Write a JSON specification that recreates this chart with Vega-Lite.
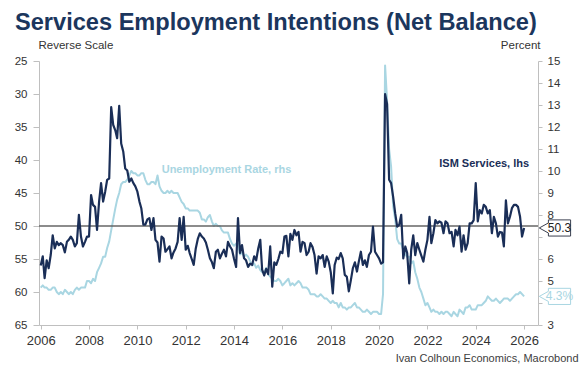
{
"$schema": "https://vega.github.io/schema/vega-lite/v6.json",
"width": 499, "height": 264,
"autosize": {"type": "none"},
"padding": {"left": 39, "top": 61, "right": 46, "bottom": 53},
"background": "white",
"config": {"view": {"stroke": null}, "font": "Liberation Sans", "axis": {"labelOverlap": false, "grid": false}},
"title": {"text": "Services Employment Intentions (Net Balance)", "anchor": "start", "frame": "group", "dx": -24, "offset": 4, "fontSize": 23.6, "fontWeight": "bold", "color": "#1b365d", "font": "Liberation Sans"},
"datasets": {
"one": [{}],
"ism": [
{"d":"2006-01","v":56.0},{"d":"2006-02","v":54.6},{"d":"2006-03","v":57.9},{"d":"2006-04","v":55.2},{"d":"2006-05","v":56.4},{"d":"2006-06","v":54.4},{"d":"2006-07","v":51.4},{"d":"2006-08","v":53.4},{"d":"2006-09","v":52.4},{"d":"2006-10","v":52.9},{"d":"2006-11","v":52.6},{"d":"2006-12","v":52.9},
{"d":"2007-01","v":54.0},{"d":"2007-02","v":52.4},{"d":"2007-03","v":52.1},{"d":"2007-04","v":51.6},{"d":"2007-05","v":52.1},{"d":"2007-06","v":53.1},{"d":"2007-07","v":52.6},{"d":"2007-08","v":48.3},{"d":"2007-09","v":51.6},{"d":"2007-10","v":53.1},{"d":"2007-11","v":52.4},{"d":"2007-12","v":51.6},
{"d":"2008-01","v":51.6},{"d":"2008-02","v":45.3},{"d":"2008-03","v":46.8},{"d":"2008-04","v":47.1},{"d":"2008-05","v":50.6},{"d":"2008-06","v":46.3},{"d":"2008-07","v":43.5},{"d":"2008-08","v":46.3},{"d":"2008-09","v":44.8},{"d":"2008-10","v":43.0},{"d":"2008-11","v":42.8},{"d":"2008-12","v":32.0},
{"d":"2009-01","v":34.7},{"d":"2009-02","v":35.5},{"d":"2009-03","v":36.7},{"d":"2009-04","v":31.8},{"d":"2009-05","v":37.5},{"d":"2009-06","v":38.7},{"d":"2009-07","v":41.3},{"d":"2009-08","v":41.6},{"d":"2009-09","v":43.3},{"d":"2009-10","v":42.8},{"d":"2009-11","v":43.5},{"d":"2009-12","v":44.0},
{"d":"2010-01","v":44.8},{"d":"2010-02","v":46.3},{"d":"2010-03","v":47.3},{"d":"2010-04","v":49.8},{"d":"2010-05","v":49.8},{"d":"2010-06","v":49.0},{"d":"2010-07","v":48.8},{"d":"2010-08","v":50.6},{"d":"2010-09","v":48.8},{"d":"2010-10","v":52.1},{"d":"2010-11","v":52.5},{"d":"2010-12","v":55.4},
{"d":"2011-01","v":51.6},{"d":"2011-02","v":51.9},{"d":"2011-03","v":53.9},{"d":"2011-04","v":53.5},{"d":"2011-05","v":53.1},{"d":"2011-06","v":54.9},{"d":"2011-07","v":54.0},{"d":"2011-08","v":53.4},{"d":"2011-09","v":52.4},{"d":"2011-10","v":48.8},{"d":"2011-11","v":52.1},{"d":"2011-12","v":48.6},
{"d":"2012-01","v":53.6},{"d":"2012-02","v":53.0},{"d":"2012-03","v":54.1},{"d":"2012-04","v":55.0},{"d":"2012-05","v":55.9},{"d":"2012-06","v":53.4},{"d":"2012-07","v":52.0},{"d":"2012-08","v":51.1},{"d":"2012-09","v":51.6},{"d":"2012-10","v":51.9},{"d":"2012-11","v":52.5},{"d":"2012-12","v":53.6},
{"d":"2013-01","v":54.9},{"d":"2013-02","v":55.5},{"d":"2013-03","v":56.4},{"d":"2013-04","v":53.9},{"d":"2013-05","v":53.6},{"d":"2013-06","v":54.9},{"d":"2013-07","v":54.2},{"d":"2013-08","v":53.6},{"d":"2013-09","v":54.6},{"d":"2013-10","v":52.4},{"d":"2013-11","v":53.1},{"d":"2013-12","v":53.6},
{"d":"2014-01","v":55.0},{"d":"2014-02","v":56.2},{"d":"2014-03","v":48.8},{"d":"2014-04","v":54.1},{"d":"2014-05","v":52.9},{"d":"2014-06","v":54.9},{"d":"2014-07","v":55.2},{"d":"2014-08","v":56.2},{"d":"2014-09","v":55.7},{"d":"2014-10","v":55.9},{"d":"2014-11","v":54.6},{"d":"2014-12","v":55.2},
{"d":"2015-01","v":53.4},{"d":"2015-02","v":52.1},{"d":"2015-03","v":56.6},{"d":"2015-04","v":57.5},{"d":"2015-05","v":56.5},{"d":"2015-06","v":57.3},{"d":"2015-07","v":53.1},{"d":"2015-08","v":59.2},{"d":"2015-09","v":55.5},{"d":"2015-10","v":55.9},{"d":"2015-11","v":55.0},{"d":"2015-12","v":53.9},
{"d":"2016-01","v":54.1},{"d":"2016-02","v":51.6},{"d":"2016-03","v":51.5},{"d":"2016-04","v":54.6},{"d":"2016-05","v":51.2},{"d":"2016-06","v":52.1},{"d":"2016-07","v":50.6},{"d":"2016-08","v":51.4},{"d":"2016-09","v":50.9},{"d":"2016-10","v":53.9},{"d":"2016-11","v":52.4},{"d":"2016-12","v":52.6},
{"d":"2017-01","v":54.4},{"d":"2017-02","v":53.9},{"d":"2017-03","v":52.6},{"d":"2017-04","v":53.2},{"d":"2017-05","v":54.4},{"d":"2017-06","v":57.2},{"d":"2017-07","v":54.6},{"d":"2017-08","v":54.9},{"d":"2017-09","v":54.4},{"d":"2017-10","v":56.2},{"d":"2017-11","v":54.6},{"d":"2017-12","v":55.4},
{"d":"2018-01","v":57.0},{"d":"2018-02","v":60.2},{"d":"2018-03","v":55.9},{"d":"2018-04","v":54.8},{"d":"2018-05","v":55.0},{"d":"2018-06","v":54.1},{"d":"2018-07","v":54.9},{"d":"2018-08","v":57.4},{"d":"2018-09","v":57.7},{"d":"2018-10","v":59.9},{"d":"2018-11","v":58.2},{"d":"2018-12","v":56.4},
{"d":"2019-01","v":55.5},{"d":"2019-02","v":56.9},{"d":"2019-03","v":55.4},{"d":"2019-04","v":53.9},{"d":"2019-05","v":55.9},{"d":"2019-06","v":55.2},{"d":"2019-07","v":56.2},{"d":"2019-08","v":54.4},{"d":"2019-09","v":53.9},{"d":"2019-10","v":50.1},{"d":"2019-11","v":53.9},{"d":"2019-12","v":54.4},
{"d":"2020-01","v":54.9},{"d":"2020-02","v":55.7},{"d":"2020-03","v":55.5},{"d":"2020-04","v":30.0},{"d":"2020-05","v":31.5},{"d":"2020-06","v":43.0},{"d":"2020-07","v":43.5},{"d":"2020-08","v":45.6},{"d":"2020-09","v":48.1},{"d":"2020-10","v":50.1},{"d":"2020-11","v":49.8},{"d":"2020-12","v":48.3},
{"d":"2021-01","v":54.9},{"d":"2021-02","v":53.1},{"d":"2021-03","v":54.1},{"d":"2021-04","v":58.7},{"d":"2021-05","v":53.6},{"d":"2021-06","v":51.4},{"d":"2021-07","v":54.4},{"d":"2021-08","v":52.6},{"d":"2021-09","v":53.6},{"d":"2021-10","v":54.5},{"d":"2021-11","v":55.4},{"d":"2021-12","v":53.6},
{"d":"2022-01","v":52.1},{"d":"2022-02","v":48.6},{"d":"2022-03","v":52.6},{"d":"2022-04","v":51.1},{"d":"2022-05","v":49.1},{"d":"2022-06","v":49.6},{"d":"2022-07","v":49.3},{"d":"2022-08","v":49.5},{"d":"2022-09","v":51.1},{"d":"2022-10","v":49.3},{"d":"2022-11","v":49.6},{"d":"2022-12","v":51.1},
{"d":"2023-01","v":50.9},{"d":"2023-02","v":53.1},{"d":"2023-03","v":50.6},{"d":"2023-04","v":51.4},{"d":"2023-05","v":50.1},{"d":"2023-06","v":53.9},{"d":"2023-07","v":51.4},{"d":"2023-08","v":53.6},{"d":"2023-09","v":52.6},{"d":"2023-10","v":49.6},{"d":"2023-11","v":49.6},{"d":"2023-12","v":49.1},
{"d":"2024-01","v":43.5},{"d":"2024-02","v":49.3},{"d":"2024-03","v":47.6},{"d":"2024-04","v":48.1},{"d":"2024-05","v":46.8},{"d":"2024-06","v":47.1},{"d":"2024-07","v":48.1},{"d":"2024-08","v":47.6},{"d":"2024-09","v":51.1},{"d":"2024-10","v":48.6},{"d":"2024-11","v":49.6},{"d":"2024-12","v":51.6},
{"d":"2025-01","v":50.9},{"d":"2025-02","v":51.0},{"d":"2025-03","v":53.1},{"d":"2025-04","v":46.1},{"d":"2025-05","v":49.6},{"d":"2025-06","v":48.6},{"d":"2025-07","v":47.3},{"d":"2025-08","v":46.8},{"d":"2025-09","v":46.8},{"d":"2025-10","v":47.1},{"d":"2025-11","v":48.6},{"d":"2025-12","v":51.6},
{"d":"2026-01","v":50.3}
],
"ur": [
{"d":"2006-01","v":4.7},{"d":"2006-02","v":4.8},{"d":"2006-03","v":4.7},{"d":"2006-04","v":4.7},{"d":"2006-05","v":4.6},{"d":"2006-06","v":4.6},{"d":"2006-07","v":4.7},{"d":"2006-08","v":4.7},{"d":"2006-09","v":4.5},{"d":"2006-10","v":4.4},{"d":"2006-11","v":4.5},{"d":"2006-12","v":4.4},
{"d":"2007-01","v":4.6},{"d":"2007-02","v":4.5},{"d":"2007-03","v":4.4},{"d":"2007-04","v":4.5},{"d":"2007-05","v":4.4},{"d":"2007-06","v":4.6},{"d":"2007-07","v":4.7},{"d":"2007-08","v":4.6},{"d":"2007-09","v":4.7},{"d":"2007-10","v":4.7},{"d":"2007-11","v":4.7},{"d":"2007-12","v":5.0},
{"d":"2008-01","v":5.0},{"d":"2008-02","v":4.9},{"d":"2008-03","v":5.1},{"d":"2008-04","v":5.0},{"d":"2008-05","v":5.4},{"d":"2008-06","v":5.6},{"d":"2008-07","v":5.8},{"d":"2008-08","v":6.1},{"d":"2008-09","v":6.1},{"d":"2008-10","v":6.5},{"d":"2008-11","v":6.8},{"d":"2008-12","v":7.3},
{"d":"2009-01","v":7.8},{"d":"2009-02","v":8.3},{"d":"2009-03","v":8.7},{"d":"2009-04","v":9.0},{"d":"2009-05","v":9.4},{"d":"2009-06","v":9.5},{"d":"2009-07","v":9.5},{"d":"2009-08","v":9.6},{"d":"2009-09","v":9.8},{"d":"2009-10","v":10.0},{"d":"2009-11","v":9.9},{"d":"2009-12","v":9.9},
{"d":"2010-01","v":9.8},{"d":"2010-02","v":9.8},{"d":"2010-03","v":9.9},{"d":"2010-04","v":9.9},{"d":"2010-05","v":9.6},{"d":"2010-06","v":9.4},{"d":"2010-07","v":9.4},{"d":"2010-08","v":9.5},{"d":"2010-09","v":9.5},{"d":"2010-10","v":9.4},{"d":"2010-11","v":9.8},{"d":"2010-12","v":9.3},
{"d":"2011-01","v":9.1},{"d":"2011-02","v":9.0},{"d":"2011-03","v":9.0},{"d":"2011-04","v":9.1},{"d":"2011-05","v":9.0},{"d":"2011-06","v":9.1},{"d":"2011-07","v":9.0},{"d":"2011-08","v":9.0},{"d":"2011-09","v":9.0},{"d":"2011-10","v":8.8},{"d":"2011-11","v":8.6},{"d":"2011-12","v":8.5},
{"d":"2012-01","v":8.3},{"d":"2012-02","v":8.3},{"d":"2012-03","v":8.2},{"d":"2012-04","v":8.2},{"d":"2012-05","v":8.2},{"d":"2012-06","v":8.2},{"d":"2012-07","v":8.2},{"d":"2012-08","v":8.1},{"d":"2012-09","v":7.8},{"d":"2012-10","v":7.8},{"d":"2012-11","v":7.7},{"d":"2012-12","v":7.9},
{"d":"2013-01","v":8.0},{"d":"2013-02","v":7.7},{"d":"2013-03","v":7.5},{"d":"2013-04","v":7.6},{"d":"2013-05","v":7.5},{"d":"2013-06","v":7.5},{"d":"2013-07","v":7.3},{"d":"2013-08","v":7.2},{"d":"2013-09","v":7.2},{"d":"2013-10","v":7.2},{"d":"2013-11","v":6.9},{"d":"2013-12","v":6.7},
{"d":"2014-01","v":6.6},{"d":"2014-02","v":6.7},{"d":"2014-03","v":6.7},{"d":"2014-04","v":6.2},{"d":"2014-05","v":6.3},{"d":"2014-06","v":6.1},{"d":"2014-07","v":6.2},{"d":"2014-08","v":6.1},{"d":"2014-09","v":5.9},{"d":"2014-10","v":5.7},{"d":"2014-11","v":5.8},{"d":"2014-12","v":5.6},
{"d":"2015-01","v":5.7},{"d":"2015-02","v":5.5},{"d":"2015-03","v":5.4},{"d":"2015-04","v":5.4},{"d":"2015-05","v":5.6},{"d":"2015-06","v":5.3},{"d":"2015-07","v":5.2},{"d":"2015-08","v":5.1},{"d":"2015-09","v":5.0},{"d":"2015-10","v":5.0},{"d":"2015-11","v":5.1},{"d":"2015-12","v":5.0},
{"d":"2016-01","v":4.8},{"d":"2016-02","v":4.9},{"d":"2016-03","v":5.0},{"d":"2016-04","v":5.1},{"d":"2016-05","v":4.8},{"d":"2016-06","v":4.9},{"d":"2016-07","v":4.8},{"d":"2016-08","v":4.9},{"d":"2016-09","v":5.0},{"d":"2016-10","v":4.9},{"d":"2016-11","v":4.7},{"d":"2016-12","v":4.7},
{"d":"2017-01","v":4.7},{"d":"2017-02","v":4.6},{"d":"2017-03","v":4.4},{"d":"2017-04","v":4.4},{"d":"2017-05","v":4.4},{"d":"2017-06","v":4.3},{"d":"2017-07","v":4.3},{"d":"2017-08","v":4.4},{"d":"2017-09","v":4.3},{"d":"2017-10","v":4.2},{"d":"2017-11","v":4.2},{"d":"2017-12","v":4.1},
{"d":"2018-01","v":4.0},{"d":"2018-02","v":4.1},{"d":"2018-03","v":4.0},{"d":"2018-04","v":4.0},{"d":"2018-05","v":3.8},{"d":"2018-06","v":4.0},{"d":"2018-07","v":3.8},{"d":"2018-08","v":3.8},{"d":"2018-09","v":3.7},{"d":"2018-10","v":3.8},{"d":"2018-11","v":3.8},{"d":"2018-12","v":3.9},
{"d":"2019-01","v":4.0},{"d":"2019-02","v":3.8},{"d":"2019-03","v":3.8},{"d":"2019-04","v":3.7},{"d":"2019-05","v":3.6},{"d":"2019-06","v":3.6},{"d":"2019-07","v":3.7},{"d":"2019-08","v":3.6},{"d":"2019-09","v":3.5},{"d":"2019-10","v":3.6},{"d":"2019-11","v":3.6},{"d":"2019-12","v":3.6},
{"d":"2020-01","v":3.5},{"d":"2020-02","v":3.5},{"d":"2020-03","v":4.4},{"d":"2020-04","v":14.8},{"d":"2020-05","v":13.2},{"d":"2020-06","v":11.0},{"d":"2020-07","v":10.2},{"d":"2020-08","v":8.4},{"d":"2020-09","v":7.8},{"d":"2020-10","v":6.9},{"d":"2020-11","v":6.7},{"d":"2020-12","v":6.7},
{"d":"2021-01","v":6.4},{"d":"2021-02","v":6.2},{"d":"2021-03","v":6.1},{"d":"2021-04","v":6.1},{"d":"2021-05","v":5.8},{"d":"2021-06","v":5.9},{"d":"2021-07","v":5.4},{"d":"2021-08","v":5.1},{"d":"2021-09","v":4.7},{"d":"2021-10","v":4.5},{"d":"2021-11","v":4.2},{"d":"2021-12","v":3.9},
{"d":"2022-01","v":4.0},{"d":"2022-02","v":3.8},{"d":"2022-03","v":3.6},{"d":"2022-04","v":3.7},{"d":"2022-05","v":3.6},{"d":"2022-06","v":3.6},{"d":"2022-07","v":3.5},{"d":"2022-08","v":3.6},{"d":"2022-09","v":3.5},{"d":"2022-10","v":3.6},{"d":"2022-11","v":3.6},{"d":"2022-12","v":3.5},
{"d":"2023-01","v":3.4},{"d":"2023-02","v":3.6},{"d":"2023-03","v":3.5},{"d":"2023-04","v":3.4},{"d":"2023-05","v":3.7},{"d":"2023-06","v":3.6},{"d":"2023-07","v":3.5},{"d":"2023-08","v":3.8},{"d":"2023-09","v":3.8},{"d":"2023-10","v":3.9},{"d":"2023-11","v":3.7},{"d":"2023-12","v":3.7},
{"d":"2024-01","v":3.7},{"d":"2024-02","v":3.9},{"d":"2024-03","v":3.9},{"d":"2024-04","v":3.9},{"d":"2024-05","v":4.0},{"d":"2024-06","v":4.1},{"d":"2024-07","v":4.3},{"d":"2024-08","v":4.2},{"d":"2024-09","v":4.1},{"d":"2024-10","v":4.1},{"d":"2024-11","v":4.2},{"d":"2024-12","v":4.1},
{"d":"2025-01","v":4.0},{"d":"2025-02","v":4.1},{"d":"2025-03","v":4.2},{"d":"2025-04","v":4.2},{"d":"2025-05","v":4.2},{"d":"2025-06","v":4.1},{"d":"2025-07","v":4.2},{"d":"2025-08","v":4.3},{"d":"2025-09","v":4.4},{"d":"2025-10","v":4.4},{"d":"2025-11","v":4.5},{"d":"2025-12","v":4.4},
{"d":"2026-01","v":4.3}
]
},
"layer": [
{
"layer": [
{
"data": {"name": "ur"},
"mark": {"type": "line", "color": "#a9d6e2", "strokeWidth": 2, "strokeJoin": "round"},
"encoding": {
"x": {"field": "d", "type": "temporal",
"scale": {"type": "utc", "domain": [{"year": 2005, "month": 12, "date": 6, "utc": true}, {"year": 2026, "month": 7, "date": 30, "utc": true}]},
"axis": {"orient": "bottom", "values": [{"year": 2006, "utc": true}, {"year": 2008, "utc": true}, {"year": 2010, "utc": true}, {"year": 2012, "utc": true}, {"year": 2014, "utc": true}, {"year": 2016, "utc": true}, {"year": 2018, "utc": true}, {"year": 2020, "utc": true}, {"year": 2022, "utc": true}, {"year": 2024, "utc": true}, {"year": 2026, "utc": true}],
"format": "%Y", "labelFontSize": 13, "labelColor": "#333333", "labelFont": "Liberation Sans", "tickColor": "#bfbfbf", "domainColor": "#bfbfbf", "tickSize": 4, "labelPadding": 5, "grid": false, "labelOverlap": false,
"title": "Ivan Colhoun Economics, Macrobond", "titleFont": "Liberation Sans", "titleFontSize": 11, "titleFontWeight": "normal", "titleColor": "#404040", "titleX": 539, "titleY": 36, "titleAlign": "right", "titleAnchor": "end", "titleBaseline": "alphabetic"}},
"y": {"field": "v", "type": "quantitative",
"scale": {"domain": [3, 15], "nice": false, "zero": false},
"axis": {"orient": "right", "values": [3,4,5,6,7,8,9,10,11,12,13,14,15], "labelExpr": "datum.value == 4 || datum.value == 7 ? '' : datum.label", "labelOverlap": false, "labelFontSize": 11.5, "labelColor": "#333333", "labelFont": "Liberation Sans", "tickColor": "#bfbfbf", "domainColor": "#bfbfbf", "tickSize": 4, "labelPadding": 5, "grid": false,
"title": "Percent", "titleAngle": 0, "titleX": 2, "titleY": -13, "titleAlign": "right", "titleBaseline": "alphabetic", "titleFont": "Liberation Sans", "titleFontSize": 11.5, "titleFontWeight": "normal", "titleColor": "#333333"}}
}
},
{
"data": {"name": "one"},
"mark": {"type": "point", "shape": "M -1 0 L -0.55 -0.25 L -0.55 -0.4 L 0.55 -0.4 L 0.55 0.4 L -0.55 0.4 L -0.55 0.25 Z", "size": 1632, "filled": true, "fill": "white", "stroke": "#a9d6e2", "strokeWidth": 1, "opacity": 1, "xOffset": 21.5},
"encoding": {
"x": {"datum": {"year": 2026, "month": 7, "date": 30, "utc": true}, "type": "temporal"},
"y": {"datum": 4.3, "type": "quantitative",
"axis": {"orient": "right", "values": [3,4,5,6,7,8,9,10,11,12,13,14,15], "labelExpr": "datum.value == 4 || datum.value == 7 ? '' : datum.label", "labelOverlap": false, "labelFontSize": 11.5, "labelColor": "#333333", "labelFont": "Liberation Sans", "tickColor": "#bfbfbf", "domainColor": "#bfbfbf", "tickSize": 4, "labelPadding": 5, "grid": false,
"title": "Percent", "titleAngle": 0, "titleX": 2, "titleY": -13, "titleAlign": "right", "titleBaseline": "alphabetic", "titleFont": "Liberation Sans", "titleFontSize": 11.5, "titleFontWeight": "normal", "titleColor": "#333333"}}
}
},
{
"data": {"name": "one"},
"mark": {"type": "text", "text": "4.3%", "xOffset": 21.5, "fontSize": 12, "color": "#a9d6e2", "align": "center", "baseline": "middle", "font": "Liberation Sans"},
"encoding": {
"x": {"datum": {"year": 2026, "month": 7, "date": 30, "utc": true}, "type": "temporal"},
"y": {"datum": 4.3, "type": "quantitative",
"axis": {"orient": "right", "values": [3,4,5,6,7,8,9,10,11,12,13,14,15], "labelExpr": "datum.value == 4 || datum.value == 7 ? '' : datum.label", "labelOverlap": false, "labelFontSize": 11.5, "labelColor": "#333333", "labelFont": "Liberation Sans", "tickColor": "#bfbfbf", "domainColor": "#bfbfbf", "tickSize": 4, "labelPadding": 5, "grid": false,
"title": "Percent", "titleAngle": 0, "titleX": 2, "titleY": -13, "titleAlign": "right", "titleBaseline": "alphabetic", "titleFont": "Liberation Sans", "titleFontSize": 11.5, "titleFontWeight": "normal", "titleColor": "#333333"}}
}
},
{
"data": {"name": "one"},
"mark": {"type": "text", "text": "Unemployment Rate, rhs", "fontSize": 11, "fontWeight": "bold", "color": "#a9d6e2", "align": "left", "baseline": "alphabetic", "font": "Liberation Sans"},
"encoding": {
"x": {"datum": {"year": 2011, "month": 1, "date": 3, "utc": true}, "type": "temporal"},
"y": {"datum": 9.91, "type": "quantitative",
"axis": {"orient": "right", "values": [3,4,5,6,7,8,9,10,11,12,13,14,15], "labelExpr": "datum.value == 4 || datum.value == 7 ? '' : datum.label", "labelOverlap": false, "labelFontSize": 11.5, "labelColor": "#333333", "labelFont": "Liberation Sans", "tickColor": "#bfbfbf", "domainColor": "#bfbfbf", "tickSize": 4, "labelPadding": 5, "grid": false,
"title": "Percent", "titleAngle": 0, "titleX": 2, "titleY": -13, "titleAlign": "right", "titleBaseline": "alphabetic", "titleFont": "Liberation Sans", "titleFontSize": 11.5, "titleFontWeight": "normal", "titleColor": "#333333"}}
}
}
]
},
{
"layer": [
{
"data": {"name": "one"},
"mark": {"type": "rule", "color": "#666666", "strokeWidth": 1.5},
"encoding": {
"y": {"datum": 50, "type": "quantitative",
"axis": {"orient": "left", "values": [25,30,35,40,45,50,55,60,65], "labelOverlap": false, "labelFontSize": 11.5, "labelColor": "#333333", "labelFont": "Liberation Sans", "tickColor": "#bfbfbf", "domainColor": "#bfbfbf", "tickSize": 6, "labelPadding": 6, "grid": false,
"title": "Reverse Scale", "titleAngle": 0, "titleX": -1, "titleY": -13, "titleAlign": "left", "titleBaseline": "alphabetic", "titleFont": "Liberation Sans", "titleFontSize": 11.5, "titleFontWeight": "normal", "titleColor": "#333333"}}
}
},
{
"data": {"name": "ism"},
"mark": {"type": "line", "color": "#1a2e57", "strokeWidth": 2.2, "strokeJoin": "round"},
"encoding": {
"x": {"field": "d", "type": "temporal"},
"y": {"field": "v", "type": "quantitative",
"scale": {"domain": [25, 65], "reverse": true, "nice": false, "zero": false},
"axis": {"orient": "left", "values": [25,30,35,40,45,50,55,60,65], "labelOverlap": false, "labelFontSize": 11.5, "labelColor": "#333333", "labelFont": "Liberation Sans", "tickColor": "#bfbfbf", "domainColor": "#bfbfbf", "tickSize": 6, "labelPadding": 6, "grid": false,
"title": "Reverse Scale", "titleAngle": 0, "titleX": -1, "titleY": -13, "titleAlign": "left", "titleBaseline": "alphabetic", "titleFont": "Liberation Sans", "titleFontSize": 11.5, "titleFontWeight": "normal", "titleColor": "#333333"}}
}
},
{
"data": {"name": "one"},
"mark": {"type": "point", "shape": "M -1 0 L -0.55 -0.25 L -0.55 -0.4 L 0.55 -0.4 L 0.55 0.4 L -0.55 0.4 L -0.55 0.25 Z", "size": 1632, "filled": true, "fill": "white", "stroke": "#3a3f4f", "strokeWidth": 1, "opacity": 1, "xOffset": 21.5},
"encoding": {
"x": {"datum": {"year": 2026, "month": 7, "date": 30, "utc": true}, "type": "temporal"},
"y": {"datum": 50.3, "type": "quantitative",
"axis": {"orient": "left", "values": [25,30,35,40,45,50,55,60,65], "labelOverlap": false, "labelFontSize": 11.5, "labelColor": "#333333", "labelFont": "Liberation Sans", "tickColor": "#bfbfbf", "domainColor": "#bfbfbf", "tickSize": 6, "labelPadding": 6, "grid": false,
"title": "Reverse Scale", "titleAngle": 0, "titleX": -1, "titleY": -13, "titleAlign": "left", "titleBaseline": "alphabetic", "titleFont": "Liberation Sans", "titleFontSize": 11.5, "titleFontWeight": "normal", "titleColor": "#333333"}}
}
},
{
"data": {"name": "one"},
"mark": {"type": "text", "text": "50.3", "xOffset": 21.5, "fontSize": 12, "color": "#222222", "align": "center", "baseline": "middle", "font": "Liberation Sans"},
"encoding": {
"x": {"datum": {"year": 2026, "month": 7, "date": 30, "utc": true}, "type": "temporal"},
"y": {"datum": 50.3, "type": "quantitative",
"axis": {"orient": "left", "values": [25,30,35,40,45,50,55,60,65], "labelOverlap": false, "labelFontSize": 11.5, "labelColor": "#333333", "labelFont": "Liberation Sans", "tickColor": "#bfbfbf", "domainColor": "#bfbfbf", "tickSize": 6, "labelPadding": 6, "grid": false,
"title": "Reverse Scale", "titleAngle": 0, "titleX": -1, "titleY": -13, "titleAlign": "left", "titleBaseline": "alphabetic", "titleFont": "Liberation Sans", "titleFontSize": 11.5, "titleFontWeight": "normal", "titleColor": "#333333"}}
}
},
{
"data": {"name": "one"},
"mark": {"type": "text", "text": "ISM Services, lhs", "fontSize": 11, "fontWeight": "bold", "color": "#1a2e57", "align": "right", "baseline": "alphabetic", "font": "Liberation Sans"},
"encoding": {
"x": {"datum": {"year": 2026, "month": 3, "date": 18, "utc": true}, "type": "temporal"},
"y": {"datum": 41.1, "type": "quantitative",
"axis": {"orient": "left", "values": [25,30,35,40,45,50,55,60,65], "labelOverlap": false, "labelFontSize": 11.5, "labelColor": "#333333", "labelFont": "Liberation Sans", "tickColor": "#bfbfbf", "domainColor": "#bfbfbf", "tickSize": 6, "labelPadding": 6, "grid": false,
"title": "Reverse Scale", "titleAngle": 0, "titleX": -1, "titleY": -13, "titleAlign": "left", "titleBaseline": "alphabetic", "titleFont": "Liberation Sans", "titleFontSize": 11.5, "titleFontWeight": "normal", "titleColor": "#333333"}}
}
}
]
}
],
"resolve": {"scale": {"y": "independent"}}
}
